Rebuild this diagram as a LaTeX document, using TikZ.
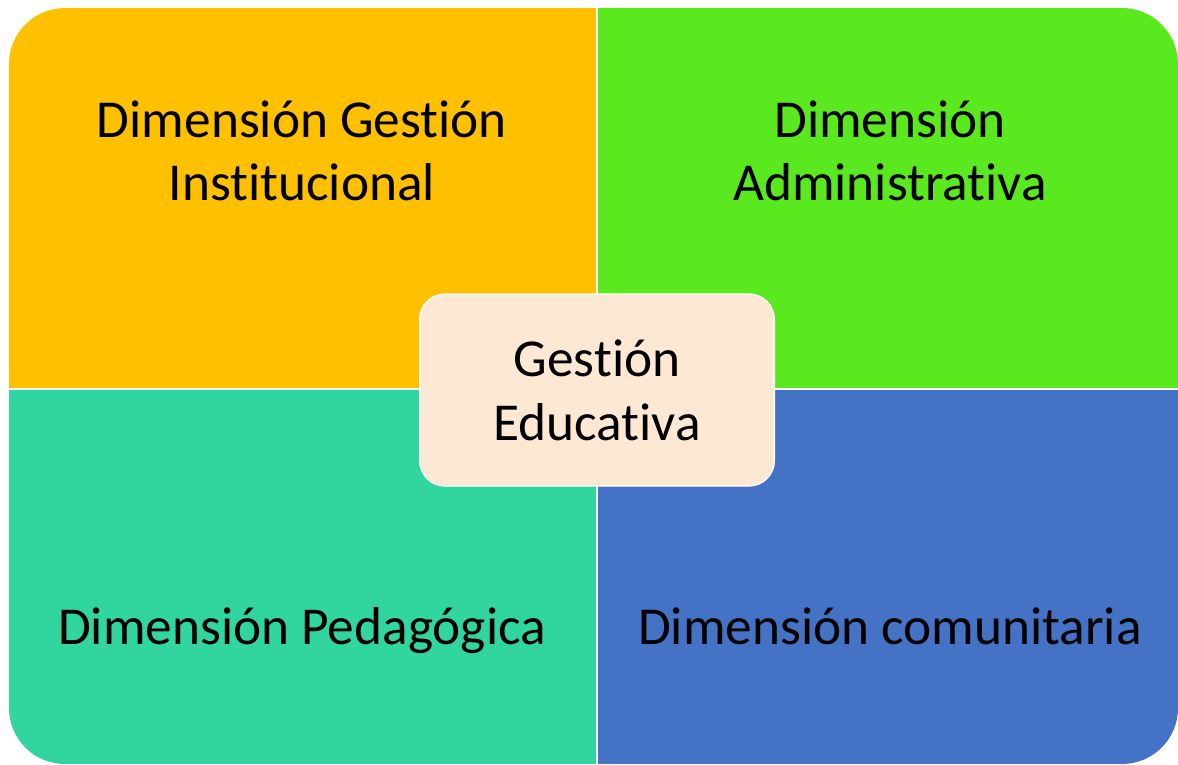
\documentclass[tikz,border=0pt]{standalone}
\usepackage{fontspec}
\setmainfont[RawFeature=-liga]{Carlito}
\definecolor{naranja}{HTML}{FFC000}
\definecolor{verde}{HTML}{5AE91E}
\definecolor{turquesa}{HTML}{30D5A0}
\definecolor{azul}{HTML}{4472C4}
\definecolor{durazno}{HTML}{FDE8D3}
\tikzset{
    dimtext/.style={align=center, font=\fontsize{40}{47}\selectfont, text=black},
    centro/.style={rectangle, rounded corners=19pt, fill=durazno, draw=white, line width=1pt,
        minimum width=266pt, minimum height=144pt, align=center,
        font=\fontsize{40}{48}\selectfont}
}
\begin{document}
\begin{tikzpicture}[x=0.75pt, y=-0.75pt]
    \useasboundingbox (0, 0) rectangle (1178, 764);

    % Cuadrantes
    \begin{scope}
        \clip[rounded corners=42pt] (9, 8) rectangle (1178, 764);
        \fill[naranja] (9, 8) rectangle (596, 388);
        \fill[verde] (598, 8) rectangle (1178, 388);
        \fill[turquesa] (9, 390) rectangle (596, 764);
        \fill[azul] (598, 390) rectangle (1178, 764);
    \end{scope}

    % Textos
    \node[dimtext] (institucional) at (302, 151) {Dimensión Gestión\\Institucional};
    \node[dimtext] (administrativa) at (890, 151) {Dimensión\\Administrativa};
    \node[dimtext, anchor=base] (pedagogica) at (302, 644) {Dimensión Pedagógica};
    \node[dimtext, anchor=base] (comunitaria) at (890, 644) {Dimensión comunitaria};

    % Centro
    \node[centro] (gestion) at (597, 390) {Gestión\\Educativa};
\end{tikzpicture}
\end{document}
